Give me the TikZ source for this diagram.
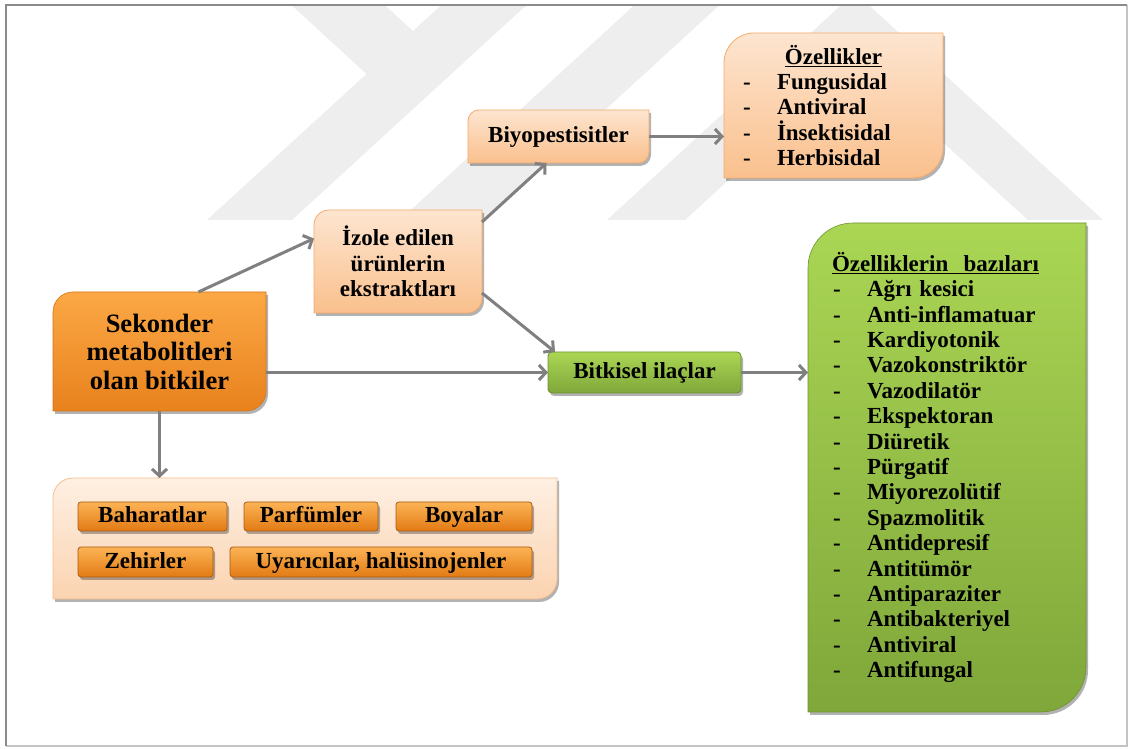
\documentclass[tikz,border=0pt]{standalone}
\usepackage{fontspec}
\setmainfont{Liberation Serif}
\usetikzlibrary{arrows.meta,shadows,calc}
\pgfdeclarelayer{wm}
\pgfdeclarelayer{bg}
\pgfsetlayers{wm,bg,main}
\definecolor{arrowgray}{HTML}{808080}
\definecolor{wmgray}{HTML}{EEEEEE}
\definecolor{framedark}{HTML}{8A8A8A}
\definecolor{framelight}{HTML}{C4C4C4}
\definecolor{peachT}{HTML}{FDE5D0}
\definecolor{peachB}{HTML}{FAC08D}
\definecolor{peachD}{HTML}{F4AC6E}
\definecolor{contT}{HTML}{FEF0E3}
\definecolor{contB}{HTML}{FBD3B0}
\definecolor{contD}{HTML}{F6BE8E}
\definecolor{orT}{HTML}{FBA845}
\definecolor{orB}{HTML}{E8821D}
\definecolor{orD}{HTML}{D9741A}
\definecolor{smT}{HTML}{FCB455}
\definecolor{smB}{HTML}{E27A14}
\definecolor{smD}{HTML}{A85C18}
\definecolor{grT}{HTML}{AAD654}
\definecolor{grB}{HTML}{7FA73A}
\definecolor{grD}{HTML}{6E9330}
\newcommand\fsA{\fontsize{23}{25.4}\selectfont\bfseries}
\newcommand\fsB{\fontsize{26.5}{28.5}\selectfont\bfseries}
\newcommand\rdshape[3]{\path[#3] (#1.south west) -- ([yshift=-#2]#1.north west) arc[start angle=180,end angle=90,radius=#2] -- (#1.north east) -- ([yshift=#2]#1.south east) arc[start angle=0,end angle=-90,radius=#2] -- cycle;}
\newcommand\rrshape[3]{\path[#3,rounded corners=#2] (#1.south west) rectangle (#1.north east);}
\tikzset{
  txt/.style={inner sep=0pt, outer sep=0pt, align=center, font=\fsA, text=black},
  oneline/.style={text height=18pt, text depth=5pt},
  sz/.style 2 args={minimum width=#1pt, minimum height=#2pt},
  arr/.style={draw=arrowgray, line width=3pt, -{Straight Barb[length=7pt,width=15pt]}},
  shad/.style={drop shadow={shadow xshift=2pt,shadow yshift=-3pt,opacity=0.3,fill=black}},
  peach/.style={shad, top color=peachT, bottom color=peachB, draw=peachD, line width=0.8pt},
  contst/.style={shad, top color=contT, bottom color=contB, draw=contD, line width=0.8pt},
  orst/.style={shad, top color=orT, bottom color=orB, draw=orD, line width=0.6pt},
  smst/.style={shad, top color=smT, bottom color=smB, draw=smD, line width=0.8pt},
  grst/.style={shad, top color=grT, bottom color=grB, draw=grD, line width=0.6pt},
}
\begin{document}
\begin{tikzpicture}[x=1pt,y=1pt]
\useasboundingbox (0,0) rectangle (1128,749);
\begin{pgfonlayer}{wm}
  \fill[white] (0,0) rectangle (1128,749);
  \begin{scope}
    \clip (7,4) rectangle (1126,743);
    \fill[wmgray] (286,749) -- (379,749) -- (413,718) -- (447,749) -- (532,749) -- (292,529) -- (207,529) -- (366.5,675) -- cycle;
    \fill[wmgray] (400,529) -- (485,529) -- (725,749) -- (640,749) -- cycle;
    \fill[wmgray] (607,529) -- (855,756.5) -- (1103,529) -- (1028,529) -- (856,686) -- (685,529) -- cycle;
  \end{scope}
\end{pgfonlayer}

% nodes
\node[txt, oneline, sz={181}{53}] (biyo) at (558.5,612.5) {Biyopestisitler};
\node[txt, sz={219}{145}, text width=219pt, align=left] (oz) at (833.5,643.5)
  {\noindent\makebox[219pt]{\underline{Özellikler}}\\
   \hspace*{19pt}\makebox[34pt][l]{-}Fungusidal\\
   \hspace*{19pt}\makebox[34pt][l]{-}Antiviral\\
   \hspace*{19pt}\makebox[34pt][l]{-}İnsektisidal\\
   \hspace*{19pt}\makebox[34pt][l]{-}Herbisidal};
\node[txt, sz={168}{103}] (izole) at (398,487.5) {İzole edilen\\ürünlerin\\ekstraktları};
\node[txt, sz={213}{119}, font=\fsB] (sek) at (159.5,397.5) {Sekonder\\metabolitleri\\olan bitkiler};
\node[txt, oneline, sz={193}{41}] (bit) at (644.5,376.5) {Bitkisel ilaçlar};
\node[txt, sz={278}{489}, text width=278pt, align=left] (green) at (947,281.5)
  {\noindent\hspace*{24pt}\underline{Özelliklerin\ \ bazıları}\\
   \hspace*{25pt}\makebox[34pt][l]{-}Ağrı kesici\\
   \hspace*{25pt}\makebox[34pt][l]{-}Anti-inflamatuar\\
   \hspace*{25pt}\makebox[34pt][l]{-}Kardiyotonik\\
   \hspace*{25pt}\makebox[34pt][l]{-}Vazokonstriktör\\
   \hspace*{25pt}\makebox[34pt][l]{-}Vazodilatör\\
   \hspace*{25pt}\makebox[34pt][l]{-}Ekspektoran\\
   \hspace*{25pt}\makebox[34pt][l]{-}Diüretik\\
   \hspace*{25pt}\makebox[34pt][l]{-}Pürgatif\\
   \hspace*{25pt}\makebox[34pt][l]{-}Miyorezolütif\\
   \hspace*{25pt}\makebox[34pt][l]{-}Spazmolitik\\
   \hspace*{25pt}\makebox[34pt][l]{-}Antidepresif\\
   \hspace*{25pt}\makebox[34pt][l]{-}Antitümör\\
   \hspace*{25pt}\makebox[34pt][l]{-}Antiparaziter\\
   \hspace*{25pt}\makebox[34pt][l]{-}Antibakteriyel\\
   \hspace*{25pt}\makebox[34pt][l]{-}Antiviral\\
   \hspace*{25pt}\makebox[34pt][l]{-}Antifungal};
\node[txt, sz={504}{121}] (cont) at (305,210.5) {};
\node[txt, oneline, sz={149}{29}] (bah) at (152.5,232.5) {Baharatlar};
\node[txt, oneline, sz={134}{29}] (parf) at (311,232.5) {Parfümler};
\node[txt, oneline, sz={136}{29}] (boy) at (464,232.5) {Boyalar};
\node[txt, oneline, sz={135}{30}] (zeh) at (145.5,187) {Zehirler};
\node[txt, oneline, sz={302}{30}] (uya) at (381,187) {Uyarıcılar, halüsinojenler};

% shapes behind the texts
\begin{pgfonlayer}{bg}
  \rdshape{oz}{30pt}{peach}
  \rdshape{biyo}{11pt}{peach}
  \rdshape{izole}{15pt}{peach}
  \rdshape{sek}{20pt}{orst}
  \rdshape{green}{45pt}{grst}
  \rrshape{bit}{4pt}{grst, draw=grD, line width=0.9pt}
  \rdshape{cont}{20pt}{contst}
  \rrshape{bah}{3pt}{smst}
  \rrshape{parf}{3pt}{smst}
  \rrshape{boy}{3pt}{smst}
  \rrshape{zeh}{3pt}{smst}
  \rrshape{uya}{3pt}{smst}
\end{pgfonlayer}

% connectors
\draw[arr] ([xshift=39pt]sek.north) -- ([yshift=23pt]izole.west);
\draw[arr] ([yshift=-12pt]izole.north east) -- ([xshift=-12pt]biyo.south);
\draw[arr] (biyo.east) -- (biyo.east -| oz.west);
\draw[arr] ([yshift=20pt]izole.south east) -- ([xshift=7pt]bit.north west);
\draw[arr] (sek.east |- bit.west) -- (bit.west);
\draw[arr] (bit.east) -- (bit.east -| green.west);
\draw[arr] (sek.south) -- (sek.south |- cont.north);

% frame
\draw[framelight, line width=1.5pt] (6,3) -- (1127,3) -- (1127,744);
\draw[framedark, line width=2pt] (6,3) -- (6,744) -- (1127,744);
\end{tikzpicture}
\end{document}
